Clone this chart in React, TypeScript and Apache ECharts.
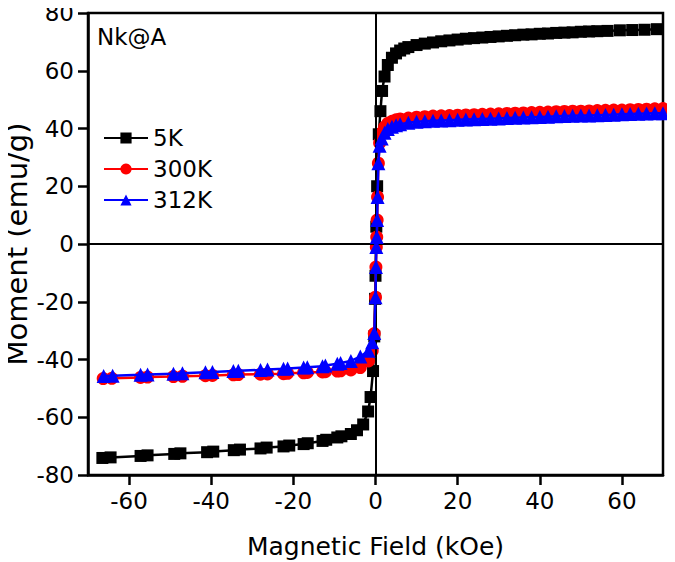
import React, { useEffect, useRef } from "react";
import * as echarts from "echarts";

const seriesNames = ["5K", "300K", "312K"];
const seriesColors = ["#000000", "#ff0000", "#0000ff"];
const xTicks = [-60, -40, -20, 0, 20, 40, 60];
const panelLabel = "Nk@A";

const data5K: [number, number][] = [
  [-66.5, -74.1], [-64.5, -73.9], [-57.2, -73.4], [-55.5, -73.2], [-49, -72.7], [-47.5, -72.5],
  [-41, -72.1], [-39.5, -71.9], [-34.5, -71.4], [-33, -71.2], [-28, -70.8], [-26.5, -70.5],
  [-22.4, -70.1], [-21, -69.8], [-17.5, -69.3], [-16.5, -69], [-12.9, -68.2], [-12, -67.8],
  [-9.3, -67], [-8.3, -66.6], [-6, -65.8], [-4.5, -64.5], [-3, -62.5], [-1.8, -58],
  [-1.2, -53], [-0.6, -44], [-0.3, -32], [-0.1, -19], [0, -11], [0.2, 6], [0.4, 20],
  [0.8, 38], [1.2, 46], [1.6, 53], [2.2, 58], [3, 62], [4, 64.5], [5, 66], [6, 67],
  [7, 67.7], [8, 68.2], [10, 68.9], [12, 69.4], [14, 69.8], [16, 70.2], [18, 70.5],
  [20, 70.8], [22, 71.1], [24, 71.3], [26, 71.5], [28, 71.7], [30, 71.9], [32, 72.1],
  [34, 72.3], [36, 72.5], [38, 72.6], [40, 72.8], [42, 72.9], [44, 73.1], [46, 73.2],
  [48, 73.3], [50, 73.5], [52, 73.6], [54, 73.7], [56.5, 73.8], [59.5, 74], [62.5, 74.1],
  [65.5, 74.2], [68.5, 74.4],
];

const data300K: [number, number][] = [
  [-66.3, -46.6], [-64.2, -46.5], [-57.2, -46.2], [-55.5, -46.1], [-49.2, -45.9], [-47, -45.8],
  [-41.4, -45.6], [-39.7, -45.5], [-34.6, -45.3], [-33.4, -45.2], [-28, -45.1], [-26.3, -45],
  [-22.4, -44.9], [-21.4, -44.8], [-17.5, -44.6], [-16.6, -44.5], [-12.9, -44.3], [-12.2, -44.2],
  [-9.3, -44], [-8.5, -43.9], [-6, -43.6], [-3.7, -42.8], [-1.7, -40.5], [-0.8, -37],
  [-0.3, -31], [0, -18.4], [0.1, -8], [0.2, -1], [0.3, 2.4], [0.4, 8.3], [0.5, 16.3],
  [0.7, 28], [1, 35], [1.5, 38.5], [2.2, 40.5], [3, 41.8], [4, 42.5], [5, 43], [6, 43.3],
  [8, 43.6], [10, 43.9], [12, 44.1], [14, 44.3], [16, 44.4], [18, 44.5], [20, 44.6],
  [22, 44.7], [24, 44.8], [26, 44.9], [28, 45], [30, 45.1], [32, 45.2], [34, 45.3],
  [36, 45.4], [38, 45.5], [40, 45.6], [42, 45.7], [44, 45.8], [46, 45.9], [48, 46],
  [50, 46], [52, 46.1], [54, 46.2], [56, 46.3], [58, 46.4], [60, 46.4], [62, 46.5],
  [64, 46.6], [66, 46.7], [68, 46.8], [70, 46.9],
];

const data312K: [number, number][] = [
  [-66.2, -45.7], [-64, -45.6], [-57.2, -45.3], [-55.5, -45.2], [-49.2, -44.9], [-47, -44.8],
  [-41.4, -44.4], [-39.7, -44.3], [-34.6, -44], [-33.4, -43.9], [-28, -43.6], [-26.3, -43.5],
  [-22.4, -43.2], [-21.4, -43.1], [-17.5, -42.8], [-16.6, -42.7], [-12.9, -42.3], [-12.2, -42.1],
  [-9.3, -41.5], [-8.5, -41.2], [-6, -40.5], [-3.7, -39], [-1.7, -37], [-0.8, -34],
  [-0.3, -30.8], [0, -18.4], [0.1, -8], [0.2, -1], [0.3, 2.4], [0.4, 8.3], [0.5, 16.3],
  [0.7, 28], [1, 34], [1.5, 36.5], [2.2, 38.5], [3, 39.8], [4, 40.6], [5, 41.1], [6, 41.5],
  [8, 42], [10, 42.3], [12, 42.5], [14, 42.7], [16, 42.8], [18, 42.9], [20, 43],
  [22, 43.1], [24, 43.2], [26, 43.3], [28, 43.4], [30, 43.5], [32, 43.6], [34, 43.7],
  [36, 43.8], [38, 43.9], [40, 44], [42, 44.1], [44, 44.2], [46, 44.3], [48, 44.4],
  [50, 44.5], [52, 44.5], [54, 44.6], [56, 44.7], [58, 44.8], [60, 44.9], [62, 45],
  [64, 45.1], [66, 45.2], [68, 45.3], [70, 45.3],
];

const FONT = "'DejaVu Sans', 'Liberation Sans', Arial, sans-serif";

export default function App() {
  const ref = useRef<HTMLDivElement>(null);
  useEffect(() => {
    if (!ref.current) return;
    const chart = echarts.init(ref.current, undefined, { renderer: "svg" });
    const datasets = [data5K, data300K, data312K];
    const symbols = ["rect", "circle", "triangle"];
    const sizes = [12, 13, 14];
    chart.setOption({
      animation: false,
      backgroundColor: "#ffffff",
      textStyle: { fontFamily: FONT },
      grid: {
        left: 88, right: 12, top: 13, bottom: 87,
        containLabel: false,
        outerBoundsMode: "none",
        show: true, borderColor: "#000", borderWidth: 2.5, backgroundColor: "transparent",
      },
      legend: {
        orient: "vertical",
        left: 98,
        top: 121,
        itemWidth: 44,
        itemHeight: 14,
        itemGap: 7,
        data: seriesNames,
        textStyle: { fontSize: 23, color: "#000", fontFamily: FONT, lineHeight: 24 },
      },
      graphic: [
        {
          type: "text",
          left: 97,
          top: 25,
          style: { text: panelLabel, font: `23px ${FONT}`, fill: "#000" },
        },
      ],
      xAxis: {
        type: "value",
        min: -70,
        max: 70,
        name: "Magnetic Field (kOe)",
        nameLocation: "middle",
        nameGap: 59,
        nameMoveOverlap: false,
        nameTextStyle: { fontSize: 25, color: "#000", fontFamily: FONT },
        axisLine: { show: true, onZero: false, lineStyle: { color: "#000", width: 2.5 } },
        axisTick: { show: true, customValues: xTicks, length: 10, lineStyle: { color: "#000", width: 2.5 } },
        axisLabel: { customValues: xTicks, fontSize: 23, color: "#000", margin: 14, fontFamily: FONT },
        splitLine: { show: false },
      },
      yAxis: {
        type: "value",
        min: -80,
        max: 80,
        interval: 20,
        name: "Moment (emu/g)",
        nameLocation: "middle",
        nameGap: 57,
        nameMoveOverlap: false,
        nameTextStyle: { fontSize: 29, color: "#000", fontFamily: FONT },
        axisLine: { show: true, onZero: false, lineStyle: { color: "#000", width: 2.5 } },
        axisTick: { show: true, length: 10, lineStyle: { color: "#000", width: 2.5 } },
        axisLabel: { fontSize: 23, color: "#000", margin: 14, fontFamily: FONT },
        splitLine: { show: false },
      },
      series: datasets.map((d, i) => ({
        name: seriesNames[i],
        type: "line",
        data: d,
        symbol: symbols[i],
        symbolSize: sizes[i],
        showAllSymbol: true,
        color: seriesColors[i],
        lineStyle: { color: seriesColors[i], width: 2.5 },
        itemStyle: { color: seriesColors[i] },
        z: 3 + i,
        markLine:
          i === 0
            ? {
                silent: true,
                symbol: ["none", "none"],
                label: { show: false },
                lineStyle: { color: "#000", width: 2, type: "solid" },
                data: [{ xAxis: 0 }, { yAxis: 0 }],
              }
            : undefined,
      })),
    });
    return () => chart.dispose();
  }, []);
  return <div ref={ref} style={{ width: 675, height: 562, marginLeft: -8, marginTop: -8 }} />;
}
